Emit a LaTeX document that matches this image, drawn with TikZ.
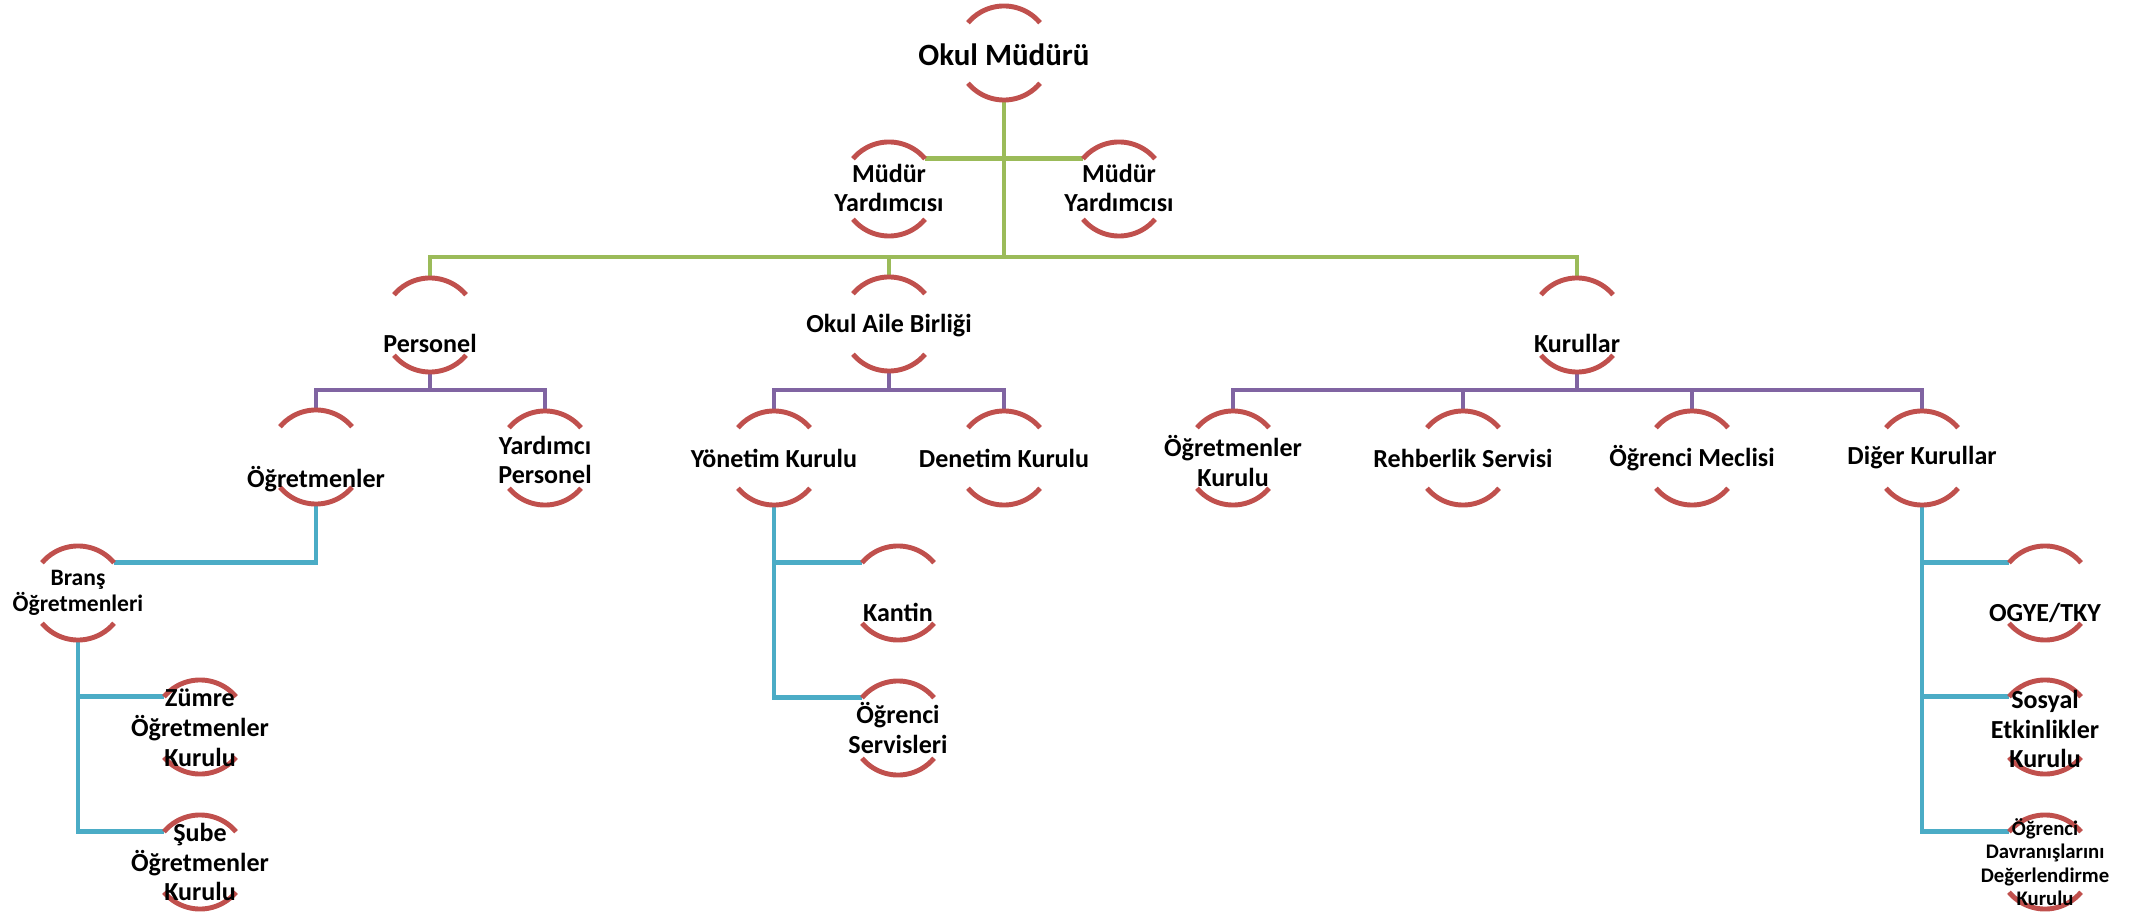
\documentclass[tikz,border=0pt]{standalone}
\usepackage{fontspec}
\setmainfont{Carlito}
\definecolor{arcred}{RGB}{192,80,77}
\definecolor{lgreen}{RGB}{155,187,89}
\definecolor{lpurple}{RGB}{128,100,162}
\definecolor{lblue}{RGB}{75,172,198}
\tikzset{
  unit/.style={circle,minimum size=0.94cm,inner sep=0pt,outer sep=0pt},
  lbl/.style={align=center,inner sep=0pt,font=\bfseries\fontsize{7.4}{8.5}\selectfont},
  lbltop/.style={lbl,font=\bfseries\fontsize{8.8}{10}\selectfont},
  lblsmall/.style={lbl,font=\bfseries\fontsize{6.7}{7.4}\selectfont},
  lbltiny/.style={lbl,font=\bfseries\fontsize{5.9}{6.7}\selectfont},
  arcline/.style={arcred,line width=1.4pt},
  gline/.style={lgreen,line width=1.4pt},
  pline/.style={lpurple,line width=1.4pt},
  bline/.style={lblue,line width=1.4pt}
}

\begin{document}
\begin{tikzpicture}[x=0.01cm,y=-0.01cm]
\useasboundingbox (0,0) rectangle (2134,913);
\coordinate (gbus) at (0,257); \coordinate (pbus) at (0,390);

\node[unit] (om) at (1004,53) {};
\node[unit] (myl) at (889,189) {}; \node[unit] (myr) at (1119,189) {};
\node[unit] (pers) at (430,325) {}; \node[unit] (oab) at (889,324) {}; \node[unit] (kur) at (1577,325) {};
\node[unit] (ogr) at (316,457) {}; \node[unit] (yper) at (545,458) {};
\node[unit] (yon) at (774,458) {}; \node[unit] (den) at (1004,458) {};
\node[unit] (okur) at (1233,458) {}; \node[unit] (reh) at (1463,458) {};
\node[unit] (mec) at (1692,458) {}; \node[unit] (dig) at (1922,458) {};
\node[unit] (brans) at (78,593) {};
\node[unit] (zum) at (200,727) {}; \node[unit] (sube) at (200,862) {};
\node[unit] (kan) at (898,593) {}; \node[unit] (oser) at (898,728) {};
\node[unit] (ogye) at (2045,593) {}; \node[unit] (sos) at (2045,727) {}; \node[unit] (odd) at (2045,862) {};

\draw[gline] (om.south) -- (om.south |- gbus);
\draw[gline] (myl.40) -- (myr.140);
\draw[gline] (pers.north) -- (pers.north |- gbus) -| (kur.north);
\draw[gline] (oab.north) -- (oab.north |- gbus);

\draw[pline] (ogr.north) -- (ogr.north |- pbus) -| (yper.north);
\draw[pline] (pers.south) -- (pers.south |- pbus);
\draw[pline] (yon.north) -- (yon.north |- pbus) -| (den.north);
\draw[pline] (oab.south) -- (oab.south |- pbus);
\draw[pline] (okur.north) -- (okur.north |- pbus) -| (dig.north);
\foreach \n in {reh,mec} \draw[pline] (\n.north |- pbus) -- (\n.north);
\draw[pline] (kur.south) -- (kur.south |- pbus);

\draw[bline] (ogr.south) |- (brans.40);
\draw[bline] (brans.south) |- (zum.140); \draw[bline] (brans.south) |- (sube.140);
\draw[bline] (yon.south) |- (kan.140); \draw[bline] (yon.south) |- (oser.140);
\draw[bline] (dig.south) |- (ogye.140); \draw[bline] (dig.south) |- (sos.140);
\draw[bline] (dig.south) |- (odd.140);

\foreach \n in {om,myl,myr,pers,oab,kur,ogr,yper,yon,den,okur,reh,mec,dig,brans,zum,sube,kan,oser,ogye,sos,odd}{
  \draw[arcline] (\n.40) arc (40:140:0.47cm);
  \draw[arcline] (\n.220) arc (220:320:0.47cm);
}

\node[lbltop] (om-t) at (1004,55) {Okul Müdürü};
\node[lbl] (myl-t) at (889,188) {Müdür\\Yardımcısı};
\node[lbl] (myr-t) at (1119,188) {Müdür\\Yardımcısı};
\node[lbl] (pers-t) at (430,343) {Personel};
\node[lbl] (oab-t) at (889,326) {Okul Aile Birliği};
\node[lbl] (kur-t) at (1577,343) {Kurullar};
\node[lbl] (ogr-t) at (316,479) {Öğretmenler};
\node[lbl] (yper-t) at (545,460) {Yardımcı\\Personel};
\node[lbl] (yon-t) at (774,458) {Yönetim Kurulu};
\node[lbl] (den-t) at (1004,458) {Denetim Kurulu};
\node[lbl] (okur-t) at (1233,461) {Öğretmenler\\Kurulu};
\node[lbl] (reh-t) at (1463,458) {Rehberlik Servisi};
\node[lbl] (mec-t) at (1692,458) {Öğrenci Meclisi};
\node[lbl] (dig-t) at (1922,458) {Diğer Kurullar};
\node[lblsmall] (brans-t) at (78,593) {Branş\\Öğretmenleri};
\node[lbl] (zum-t) at (200,728) {Zümre\\Öğretmenler\\Kurulu};
\node[lbl] (sube-t) at (200,862) {Şube\\Öğretmenler\\Kurulu};
\node[lbl] (kan-t) at (898,612) {Kantin};
\node[lbl] (oser-t) at (898,728) {Öğrenci\\Servisleri};
\node[lbl] (ogye-t) at (2045,613) {OGYE/TKY};
\node[lbl] (sos-t) at (2045,729) {Sosyal\\Etkinlikler\\Kurulu};
\node[lbltiny] (odd-t) at (2045,862) {Öğrenci\\Davranışlarını\\Değerlendirme\\Kurulu};
\end{tikzpicture}
\end{document}
